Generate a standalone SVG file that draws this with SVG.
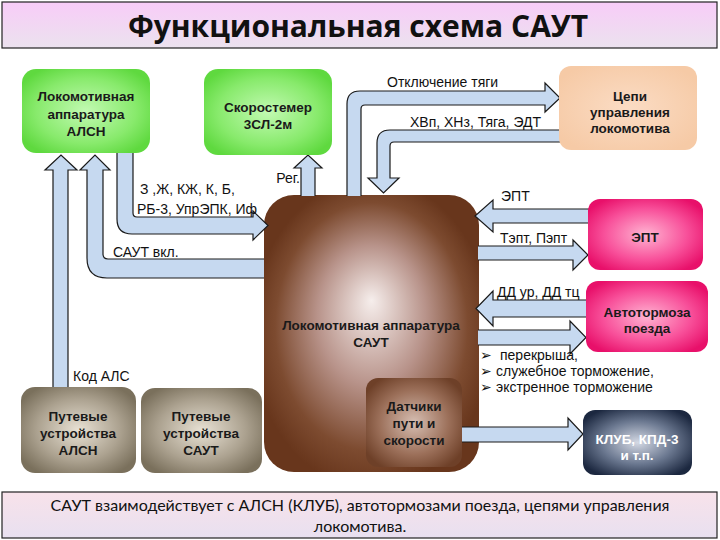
<svg xmlns="http://www.w3.org/2000/svg" width="720" height="540" viewBox="0 0 720 540">
<defs>
<linearGradient id="gTitle" x1="0" y1="0" x2="0" y2="1"><stop offset="0" stop-color="#f8ccf8"/><stop offset="1" stop-color="#ebe2ee"/></linearGradient>
<linearGradient id="gFoot" x1="0" y1="0" x2="0" y2="1"><stop offset="0" stop-color="#f8e2ea"/><stop offset="1" stop-color="#e8e0f0"/></linearGradient>
<radialGradient id="gGreen" cx="0.5" cy="0.5" r="0.6"><stop offset="0" stop-color="#c2fab2"/><stop offset="0.65" stop-color="#88ea6c"/><stop offset="1" stop-color="#5fd93f"/></radialGradient>
<radialGradient id="gPink" cx="0.5" cy="0.5" r="0.6"><stop offset="0" stop-color="#ffb4d2"/><stop offset="0.6" stop-color="#f8509a"/><stop offset="1" stop-color="#e8106a"/></radialGradient>
<radialGradient id="gNavy" cx="0.5" cy="0.5" r="0.6"><stop offset="0" stop-color="#d4d9e4"/><stop offset="0.55" stop-color="#6b7890"/><stop offset="1" stop-color="#1c2840"/></radialGradient>
<radialGradient id="gTaupe" cx="0.5" cy="0.5" r="0.6"><stop offset="0" stop-color="#e8e1d4"/><stop offset="0.6" stop-color="#aca290"/><stop offset="1" stop-color="#7a705c"/></radialGradient>
<radialGradient id="gSens" cx="0.5" cy="0.5" r="0.6"><stop offset="0" stop-color="#d6beb2"/><stop offset="0.6" stop-color="#9c705a"/><stop offset="1" stop-color="#6e4028"/></radialGradient>
<radialGradient id="gMain" cx="0.5" cy="0.5" r="0.56" fx="0.5" fy="0.38"><stop offset="0" stop-color="#f6eeec"/><stop offset="0.45" stop-color="#b8938a"/><stop offset="0.8" stop-color="#7d4b30"/><stop offset="1" stop-color="#68361c"/></radialGradient>
<radialGradient id="gPeach" cx="0.5" cy="0.5" r="0.6"><stop offset="0" stop-color="#fbdcc4"/><stop offset="1" stop-color="#f6caa6"/></radialGradient>
<style>
.arrow{fill:#c6d9f0;stroke:#1a1a1a;stroke-width:1.2;stroke-linejoin:miter}
.lbl{font-family:"Liberation Sans",Arial,sans-serif;font-size:14px;fill:#111}
.nl{font-family:"Liberation Sans",Arial,sans-serif;font-weight:bold;font-size:13.5px;text-anchor:middle;fill:#1a1a1a}
.bar{stroke:#222;stroke-width:1.2}
</style>
</defs>
<rect width="720" height="540" fill="#ffffff"/>

<g id="title">
<rect class="bar" x="2" y="2" width="715" height="46" fill="url(#gTitle)"/>
<text x="358" y="37" text-anchor="middle" font-family="'Open Sans','Noto Sans',sans-serif" font-weight="bold" font-size="30" fill="#111">Функциональная схема САУТ</text>
</g>

<g id="node-saut">
<rect x="264" y="195" width="215" height="277" rx="30" fill="url(#gMain)"/>
<text class="nl" x="371" y="330">Локомотивная аппаратура</text>
<text class="nl" x="371" y="347">САУТ</text>
</g>

<g id="connectors">
<path class="arrow" d="M53,395 V170 H45 L61,155 L77,170 H68 V395"/>
<path class="arrow" d="M264,278 H107 Q87,278 87,258 V170 H80 L95,155 L110,170 H103 V254 Q103,259 108,259 H264"/>
<path class="arrow" d="M117,145 V219 Q117,234 132,234 H253 V240 L268,225.5 L253,211 V217 H137 Q133,217 133,213 V145"/>
<path class="arrow" d="M301,196 V168 H294 L308,155 L322,168 H315 V196"/>
<path class="arrow" d="M347,196 V104 Q347,91 360,91 H545 V83 L560,98 L545,112 V105 H365 Q361,105 361,109 V196"/>
<path class="arrow" d="M565,130 H390 Q377,130 377,143 V178 H368 L383.5,193 L399,178 H390 V146 Q390,142 394,142 H565"/>
<path class="arrow" d="M595,209 H493 V200 L475,216 L493,232 V223 H595"/>
<path class="arrow" d="M478,246 H573 V240 L588,255 L573,270 V260 H478"/>
<path class="arrow" d="M595,300 H493 V291 L476,308.5 L493,326 V317 H595"/>
<path class="arrow" d="M478,330 H570 V321 L586,337.5 L570,354 V345 H478"/>
<path class="arrow" d="M450,427 H568 V418 L583,434 L568,450 V442 H450"/>
<text class="lbl" x="387" y="87">Отключение тяги</text>
<text class="lbl" x="410" y="127">ХВп, ХНз, Тяга, ЭДТ</text>
<text class="lbl" x="300" y="183" text-anchor="end">Рег.</text>
<text class="lbl" x="140" y="194">З ,Ж, КЖ, К, Б,</text>
<text class="lbl" x="137" y="214">РБ-3, УпрЭПК, Иф</text>
<text class="lbl" x="113" y="257">САУТ вкл.</text>
<text class="lbl" x="501" y="201">ЭПТ</text>
<text class="lbl" x="500" y="243">Тэпт, Пэпт</text>
<text class="lbl" x="497" y="297">ДД ур, ДД тц</text>
<text class="lbl" x="73" y="381">Код АЛС</text>
</g>

<g id="bullets">
<text class="lbl" x="480" y="360" font-family="'DejaVu Sans',sans-serif" font-size="11">➢</text>
<text class="lbl" x="480" y="376" font-family="'DejaVu Sans',sans-serif" font-size="11">➢</text>
<text class="lbl" x="480" y="392" font-family="'DejaVu Sans',sans-serif" font-size="11">➢</text>
<text class="lbl" x="500" y="360">перекрыша,</text>
<text class="lbl" x="496" y="376">служебное торможение,</text>
<text class="lbl" x="496" y="392">экстренное торможение</text>
</g>

<g id="node-alsn">
<rect x="22" y="69" width="128" height="84" rx="14" fill="url(#gGreen)"/>
<text class="nl" x="86" y="101">Локомотивная</text>
<text class="nl" x="86" y="119">аппаратура</text>
<text class="nl" x="86" y="136">АЛСН</text>
</g>

<g id="node-speed">
<rect x="204" y="69" width="128" height="86" rx="14" fill="url(#gGreen)"/>
<text class="nl" x="268" y="112">Скоростемер</text>
<text class="nl" x="268" y="129">3СЛ-2м</text>
</g>

<g id="node-circuits">
<rect x="559" y="66" width="138" height="84" rx="12" fill="url(#gPeach)"/>
<text class="nl" x="630" y="101">Цепи</text>
<text class="nl" x="630" y="117">управления</text>
<text class="nl" x="630" y="133">локомотива</text>
</g>

<g id="node-ept">
<rect x="588" y="199" width="115" height="71" rx="12" fill="url(#gPink)"/>
<text class="nl" x="645" y="242">ЭПТ</text>
</g>

<g id="node-brakes">
<rect x="586" y="281" width="122" height="71" rx="12" fill="url(#gPink)"/>
<text class="nl" x="647" y="317">Автотормоза</text>
<text class="nl" x="647" y="333">поезда</text>
</g>

<g id="node-klub">
<rect x="583" y="410" width="109" height="65" rx="12" fill="url(#gNavy)"/>
<text class="nl" x="637" y="444" fill="#ffffff" style="fill:#ffffff">КЛУБ, КПД-3</text>
<text class="nl" x="637" y="460" style="fill:#ffffff">и т.п.</text>
</g>

<g id="node-sensors">
<rect x="366" y="378" width="96" height="89" rx="12" fill="url(#gSens)"/>
<text class="nl" x="414" y="411">Датчики</text>
<text class="nl" x="414" y="428">пути и</text>
<text class="nl" x="414" y="445">скорости</text>
</g>

<g id="node-track-alsn">
<rect x="21" y="387" width="115" height="86" rx="14" fill="url(#gTaupe)"/>
<text class="nl" x="78" y="421">Путевые</text>
<text class="nl" x="78" y="438">устройства</text>
<text class="nl" x="78" y="455">АЛСН</text>
</g>

<g id="node-track-saut">
<rect x="141" y="388" width="121" height="85" rx="14" fill="url(#gTaupe)"/>
<text class="nl" x="201" y="421">Путевые</text>
<text class="nl" x="201" y="438">устройства</text>
<text class="nl" x="201" y="455">САУТ</text>
</g>

<g id="footer">
<rect class="bar" x="2" y="492" width="715" height="46" fill="url(#gFoot)"/>
<text x="360" y="511" text-anchor="middle" font-family="Lato,'Open Sans',sans-serif" font-size="16" fill="#111">САУТ взаимодействует с АЛСН (КЛУБ), автотормозами поезда, цепями управления</text>
<text x="360" y="532" text-anchor="middle" font-family="Lato,'Open Sans',sans-serif" font-size="16" fill="#111">локомотива.</text>
</g>
</svg>
